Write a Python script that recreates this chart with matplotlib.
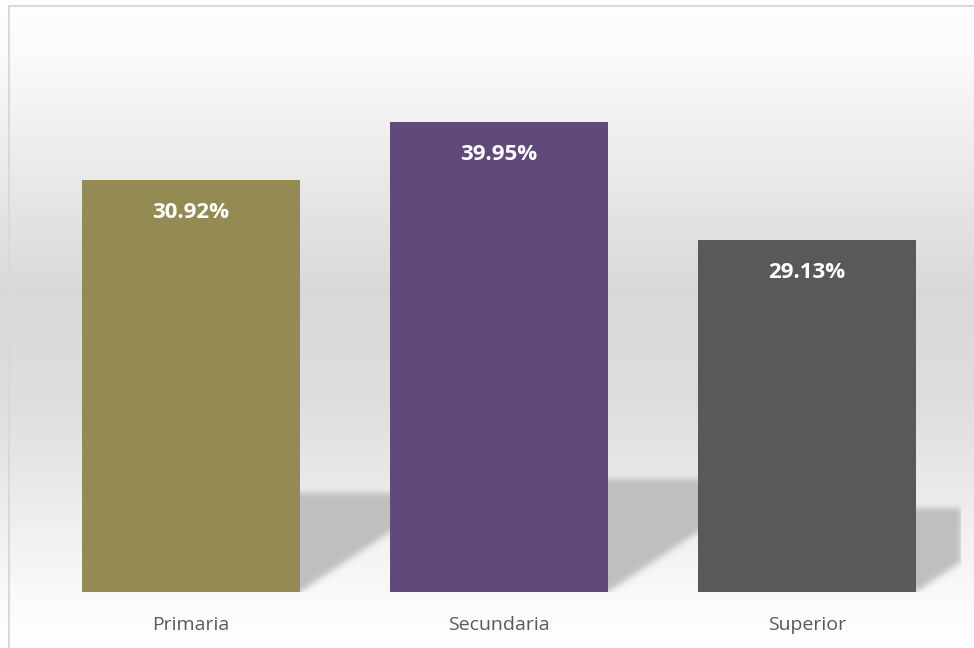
import numpy as np
import matplotlib
matplotlib.use("Agg")
import matplotlib.pyplot as plt
from matplotlib.patches import Rectangle

# ---- data ----
categories = ["Primaria", "Secundaria", "Superior"]
bar_values = [35.02, 39.95, 29.92]          # bar heights as drawn
value_labels = ["30.92%", "39.95%", "29.13%"]  # data labels as printed
bar_colors = ["#948A54", "#604A7B", "#595959"]

W_PX, H_PX = 974, 648
DPI = 100
fig = plt.figure(figsize=(W_PX / DPI, H_PX / DPI), dpi=DPI)
fig.patch.set_facecolor("white")

# ---- background gradient inside the chart border ----
bg = fig.add_axes([0, 0, 1, 1], zorder=0)
bg.set_axis_off()
ny = 400
t = np.linspace(0, 1, ny)
stops_t = [0.0, 0.08, 0.45, 0.62, 0.95, 1.0]
stops_v = [0.995, 0.985, 0.85, 0.87, 0.99, 0.995]
g = np.interp(t, stops_t, stops_v)
img = np.repeat(g[:, None], 2, axis=1)
bg.imshow(np.dstack([img, img, img]), extent=[0, 1, 0, 1], aspect="auto",
          origin="upper", interpolation="bilinear")
bg.set_xlim(0, 1)
bg.set_ylim(0, 1)
# border
bx0, by_top = 8.5 / W_PX, 1 - 6.5 / H_PX
bg.add_patch(Rectangle((bx0, -0.05), 1.2, by_top + 0.05, fill=False,
                       edgecolor="#d9d9d9", linewidth=1.5))

# ---- main axes ----
ax_left, ax_right = 37 / W_PX, 961 / W_PX
ax_bottom = (H_PX - 592) / H_PX
ymax = 47.0
px_per_unit = 470 / 39.95
ax_h = ymax * px_per_unit / H_PX
ax = fig.add_axes([ax_left, ax_bottom, ax_right - ax_left, ax_h], zorder=1)
ax.patch.set_alpha(0)
xmin, xmax = -0.5, 2.5
ax.set_xlim(xmin, xmax)
ax.set_ylim(0, ymax)
for s in ax.spines.values():
    s.set_visible(False)
ax.set_yticks([])
x = np.arange(len(categories))
bar_w = 0.708
ax.set_xticks(x)
ax.set_xticklabels(categories, fontsize=14, color="#595959",
                   fontfamily=["Open Sans", "DejaVu Sans"])
ax.tick_params(axis="x", length=0, pad=17)

# ---- perspective shadows (raster, blurred) ----
Wp = int(round((ax_right - ax_left) * W_PX))
Hp = int(round(ax_h * H_PX))
ppx = Wp / (xmax - xmin)
ppy = Hp / ymax
xs = xmin + (np.arange(Wp) + 0.5) / ppx
ys = ymax - (np.arange(Hp) + 0.5) / ppy
XX, YY = np.meshgrid(xs, ys)
mask = np.zeros((Hp, Wp))
shadow_frac = 0.24
slope = 1.5  # px right per px up
for xi, v in zip(x, bar_values):
    hs = shadow_frac * v
    shift = slope * YY * ppy / ppx
    m = (YY >= 0) & (YY <= hs) & (XX - shift >= xi - bar_w / 2) & (XX - shift <= xi + bar_w / 2)
    mask = np.maximum(mask, m.astype(float))

def blur(a, sigma):
    r = int(3 * sigma)
    k = np.exp(-0.5 * (np.arange(-r, r + 1) / sigma) ** 2)
    k /= k.sum()
    a = np.apply_along_axis(lambda c: np.convolve(c, k, mode="same"), 0, a)
    a = np.apply_along_axis(lambda c: np.convolve(c, k, mode="same"), 1, a)
    return a

mask = blur(mask, 3.0)
sh = np.zeros((Hp, Wp, 4))
sh[..., :3] = 0.75
sh[..., 3] = np.clip(mask, 0, 1)
ax.imshow(sh, extent=[xmin, xmax, 0, ymax], aspect="auto", origin="upper",
          zorder=1, interpolation="nearest")
ax.set_xlim(xmin, xmax)
ax.set_ylim(0, ymax)

# ---- bars ----
bars = ax.bar(x, bar_values, width=bar_w, color=bar_colors, zorder=2)
for b, lab in zip(bars, value_labels):
    ax.annotate(lab, (b.get_x() + b.get_width() / 2, b.get_height()),
                xytext=(0, -32), textcoords="offset pixels",
                ha="center", va="center", color="white", fontsize=16,
                fontweight="bold", fontfamily=["Open Sans", "DejaVu Sans"],
                zorder=3)

fig.savefig("out.png", dpi=DPI)
